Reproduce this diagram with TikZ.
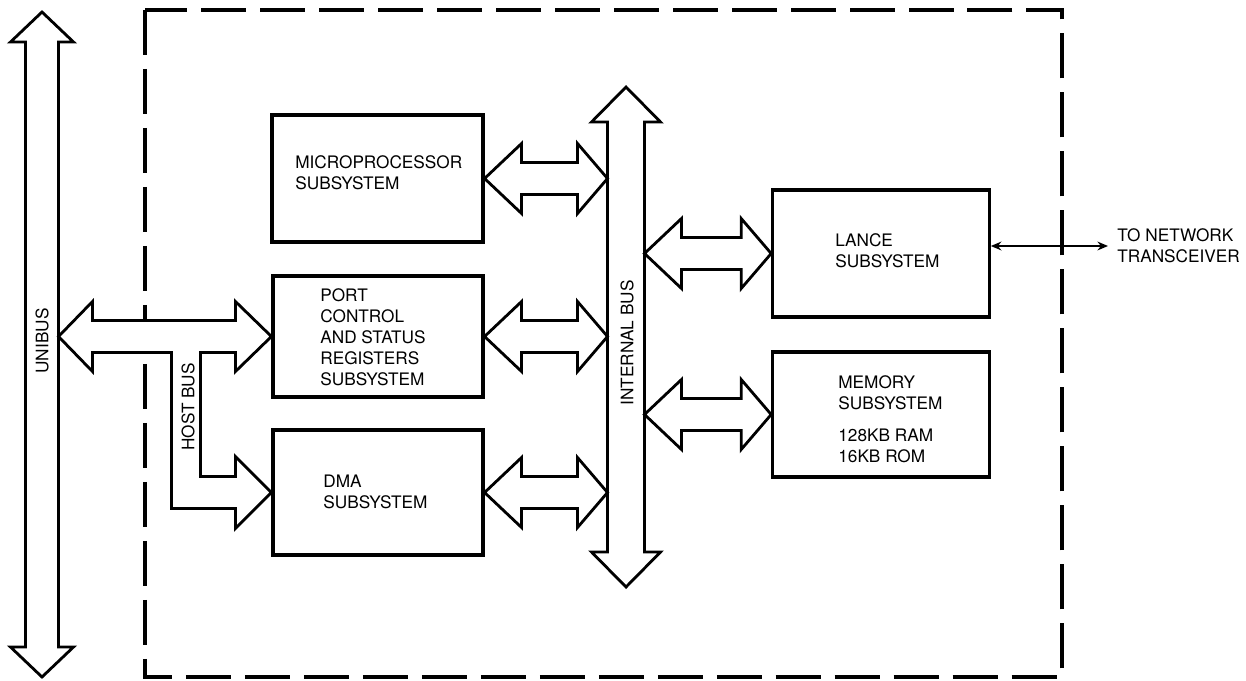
\documentclass[tikz,border=0pt]{standalone}
\usepackage{fontspec}
\setmainfont{TeX Gyre Heros}
\usetikzlibrary{calc,positioning,arrows.meta}
% fat horizontal arrow: left tip, right tip
\newcommand{\fatarrow}[2]{%
  \path[Bus] (#1) -- ++(37,-35) -- ++(0,19) -- ($(#2)+(-30,-16)$) -- ++(0,-19) -- (#2)
    -- ++(-30,35) -- ++(0,-19) -- ($(#1)+(37,16)$) -- ++(0,19) -- cycle;}
% fat vertical bus: top tip, bottom tip, head length, head half width, shaft half width
\newcommand{\fatvbus}[5]{%
  \path[Bus] (#1) -- ($(#1)+(#4,#3)$) -- ($(#1)+(#5,#3)$) -- ($(#2)+(#5,-#3)$) -- ($(#2)+(#4,-#3)$)
    -- (#2) -- ($(#2)+(-#4,-#3)$) -- ($(#2)+(-#5,-#3)$) -- ($(#1)+(-#5,#3)$) -- ($(#1)+(-#4,#3)$) -- cycle;}

\begin{document}
\begin{tikzpicture}
  [
    x=0.02cm, y=-0.02cm,
    Box/.style={rectangle, draw=black, fill=white, line width=1.8pt, inner sep=0pt},
    Txt/.style={font=\fontsize{9.8}{12}\selectfont, align=left, anchor=west, inner sep=0pt},
    Bus/.style={draw=black, fill=white, line width=1.6pt, line join=miter},
    Frame/.style={draw=black, line width=2.6pt, dash pattern=on 0.9cm off 0.28cm},
    Net/.style={draw=black, line width=1pt, {Stealth[length=6pt,width=5pt]}-{Stealth[length=6pt,width=5pt]}}
  ]
  \useasboundingbox (0,0) rectangle (1246,680);
  % Frame
  \draw[Frame] (145,10) rectangle (1062,677);
  % Buses
  \coordinate (ubT) at (42,12);
  \coordinate (ubB) at (42,677);
  \coordinate (ubR) at (58.5,0);
  \coordinate (ibT) at (626,87);
  \coordinate (ibB) at (626,587);
  \coordinate (ibL) at (607.5,0);
  \coordinate (ibR) at (644.5,0);
  \fatvbus{ubT}{ubB}{30}{31.5}{16.5}
  \fatvbus{ibT}{ibB}{35}{34.5}{18.5}
  \node[Txt, anchor=center, rotate=90] (unibus) at (42,341) {UNIBUS};
  \node[Txt, anchor=center, rotate=90] (ibus) at (627,343) {INTERNAL BUS};
  % Nodes
  \node[Box, minimum width=4.22cm, minimum height=2.54cm] (micro) at (377.5,178.5) {};
  \node[Box, minimum width=4.2cm, minimum height=2.42cm] (port) at (378,336.5) {};
  \node[Box, minimum width=4.2cm, minimum height=2.5cm] (dma) at (378,492.5) {};
  \node[Box, minimum width=4.33cm, minimum height=2.54cm] (lance) at (881,253.5) {};
  \node[Box, minimum width=4.33cm, minimum height=2.5cm] (memory) at (881,414.5) {};
  \node[Txt] (microtxt) at (295,173) {MICROPROCESSOR\\SUBSYSTEM};
  \node[Txt] (porttxt) at (320,337) {PORT\\CONTROL\\AND STATUS\\REGISTERS\\SUBSYSTEM};
  \node[Txt] (dmatxt) at (323,492) {DMA\\SUBSYSTEM};
  \node[Txt] (lancetxt) at (835,251) {LANCE\\SUBSYSTEM};
  \node[Txt] (memorytxt) at (838,419) {MEMORY\\SUBSYSTEM\\[6pt]128KB RAM\\16KB ROM};
  \node[Txt] (nettxt) at (1117,246) {TO NETWORK\\TRANSCEIVER};
  % Lines
  \fatarrow{micro.east}{micro.east -| ibL}
  \fatarrow{port.east}{port.east -| ibL}
  \fatarrow{dma.east}{dma.east -| ibL}
  \fatarrow{lance.west -| ibR}{lance.west}
  \fatarrow{memory.west -| ibR}{memory.west}
  \path[Bus] (port.west -| ubR) -- ++(34,-35) -- ++(0,19) -- ($(port.west)+(-36,-16)$) -- ++(0,-19)
    -- (port.west) -- ++(-36,35) -- ++(0,-19) -- ($(port.west)+(-71,16)$) -- ($(dma.west)+(-71,-16)$)
    -- ($(dma.west)+(-36,-16)$) -- ++(0,-20) -- (dma.west) -- ++(-36,36) -- ++(0,-20)
    -- ($(dma.west)+(-100,16)$) -- ($(port.west)+(-100,16)$) -- ($(port.west -| ubR)+(34,16)$)
    -- ++(0,19) -- cycle;
  \node[Txt, anchor=center, rotate=90] (hostbus) at (188,407) {HOST BUS};
  \draw[Net] (nettxt.west -| lance.east) -- ([xshift=-0.18cm]nettxt.west);
\end{tikzpicture}
\end{document}
